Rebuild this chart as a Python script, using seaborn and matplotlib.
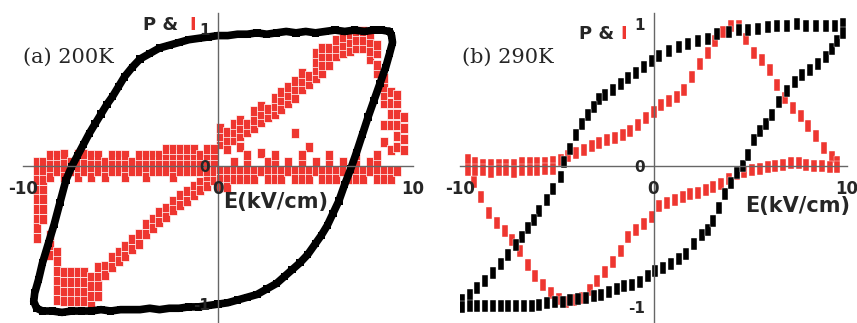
import matplotlib
matplotlib.use("Agg")
import matplotlib.pyplot as plt
from matplotlib.path import Path
from matplotlib.markers import MarkerStyle
import pandas as pd
import seaborn as sns

sns.set_style("white")
plt.rcParams['font.family'] = ['DejaVu Sans']

RED = '#ee3630'

# ---------------- (a) 200K ----------------
# polarisation loop, traced upper branch (right->left) then lower branch (left->right)
pa_e = [8.8, 8.4, 8.0, 7.5, 7.0, 6.5, 6.0, 5.5, 5.0, 4.5, 4.0, 3.5, 3.0, 2.5, 2.0, 1.5, 1.0, 0.5, 0.0,
        -0.5, -1.0, -1.5, -2.0, -2.5, -3.0, -3.5, -4.0, -4.4, -4.8, -5.1, -5.4, -5.7, -6.0, -6.3, -6.6,
        -6.9, -7.2, -7.5, -7.8, -8.1, -8.4, -8.7, -9.0, -9.2, -9.4, -9.45, -9.3,
        -9.0, -8.5, -8.0, -7.5, -7.0, -6.5, -6.0, -5.5, -5.0, -4.5, -4.0, -3.5, -3.0, -2.5, -2.0, -1.5,
        -1.0, -0.5, 0.0, 0.5, 1.0, 1.5, 2.0, 2.5, 3.0, 3.4, 3.8, 4.2, 4.6, 5.0, 5.3, 5.6, 5.9, 6.2,
        6.5, 6.8, 7.1, 7.4, 7.7, 8.0, 8.3, 8.6, 8.8, 8.95, 8.9, 8.8]
pa_p = [0.98, 0.99, 0.99, 0.98, 0.99, 0.98, 0.99, 0.98, 0.97, 0.98, 0.97, 0.98, 0.97, 0.96, 0.97, 0.96,
        0.96, 0.95, 0.95, 0.94, 0.93, 0.92, 0.90, 0.88, 0.86, 0.82, 0.78, 0.72, 0.65, 0.58, 0.51, 0.45,
        0.38, 0.31, 0.24, 0.16, 0.08, 0.00, -0.10, -0.26, -0.42, -0.56, -0.70, -0.82, -0.92, -0.98, -1.03,
        -1.05, -1.05, -1.06, -1.05, -1.05, -1.05, -1.04, -1.05, -1.04, -1.04, -1.04, -1.03, -1.04, -1.03,
        -1.03, -1.02, -1.02, -1.01, -1.00, -0.99, -0.97, -0.95, -0.93, -0.89, -0.85, -0.80, -0.75, -0.70,
        -0.64, -0.56, -0.50, -0.43, -0.34, -0.25, -0.13, -0.02, 0.10, 0.23, 0.36, 0.48, 0.60, 0.72, 0.82,
        0.90, 0.95, 0.98]

# current I, as columns (E, [I values])
ia_spike = [(-9.3, [0.03, -0.03, -0.10, -0.17, -0.24, -0.31, -0.38, -0.45, -0.52]),
            (-8.95, [0.03, -0.03, -0.10, -0.17, -0.24, -0.31, -0.38])]
ia_trough = [(-8.6, [-0.50, -0.57, -0.64]),
             (-8.25, [-0.62, -0.69, -0.76, -0.83, -0.90, -0.97]),
             (-7.9, [-0.77, -0.84, -0.91, -0.98]),
             (-7.55, [-0.77, -0.84, -0.91, -0.98]),
             (-7.2, [-0.77, -0.84, -0.91, -0.98]),
             (-6.85, [-0.77, -0.84, -0.91, -0.98]),
             (-6.5, [-0.80, -0.87, -0.94, -1.01]),
             (-6.15, [-0.73, -0.80, -0.87, -0.94]),
             (-5.8, [-0.72, -0.79])]
ia_neg = [(-5.45, [-0.66, -0.73]), (-5.1, [-0.62, -0.69]), (-4.75, [-0.58, -0.65]),
          (-4.4, [-0.53, -0.60]), (-4.05, [-0.49, -0.56]), (-3.7, [-0.42, -0.49]),
          (-3.35, [-0.38, -0.45]), (-3.0, [-0.33, -0.40]), (-2.65, [-0.30, -0.37]),
          (-2.3, [-0.25, -0.32]), (-1.95, [-0.21, -0.28]), (-1.6, [-0.18, -0.25]),
          (-1.25, [-0.14, -0.21]), (-0.9, [-0.11, -0.17]), (-0.55, [-0.08, -0.14]), (-0.2, [-0.10])]
ia_pos = [(0.1, [0.16, 0.22, 0.28]), (0.45, [0.13, 0.19, 0.25]), (0.8, [0.19, 0.25, 0.31]),
          (1.15, [0.14, 0.22, 0.28, 0.34]), (1.5, [0.25, 0.31]), (1.85, [0.28, 0.34, 0.40]),
          (2.2, [0.10, 0.32, 0.38, 0.44]), (2.55, [0.36, 0.42]), (2.9, [0.38, 0.44, 0.50]),
          (3.25, [0.42, 0.48, 0.54]), (3.6, [0.46, 0.52, 0.58]), (3.95, [0.24, 0.50, 0.56, 0.62]),
          (4.3, [0.56, 0.62, 0.68]), (4.65, [0.14, 0.60, 0.66]), (5.0, [0.64, 0.70, 0.76, 0.82]),
          (5.35, [0.68, 0.74, 0.80, 0.86]), (5.7, [0.74, 0.80, 0.86]), (6.05, [0.80, 0.86, 0.92]),
          (6.4, [0.82, 0.88, 0.94]), (6.75, [0.84, 0.90, 0.96]), (7.1, [0.86, 0.92, 0.98]),
          (7.45, [0.86, 0.92, 0.98]), (7.8, [0.78, 0.84, 0.90, 0.96]), (8.15, [0.68, 0.74, 0.82, 0.88]),
          (8.5, [0.18, 0.30, 0.46, 0.52, 0.58, 0.64]), (8.85, [0.12, 0.30, 0.38, 0.46, 0.54]),
          (9.2, [0.14, 0.22, 0.30, 0.38, 0.46, 0.52]), (9.55, [0.12, 0.20, 0.28, 0.36])]
ia_band_up = [(-8.6, [0.03, 0.08]), (-8.25, [0.03, 0.08]), (-7.9, [0.03, 0.09]), (-7.55, [0.03]),
              (-7.2, [0.03, 0.09]), (-6.85, [0.03, 0.09]), (-6.5, [0.03, 0.08]), (-6.15, [0.03, 0.08]),
              (-5.8, [0.03]), (-5.45, [0.03, 0.08]), (-5.1, [0.03, 0.08]), (-4.75, [0.03, 0.08]),
              (-4.4, [0.03]), (-4.05, [0.03, 0.08]), (-3.7, [0.03, 0.08]), (-3.35, [0.03, 0.08]),
              (-3.0, [0.03, 0.08]), (-2.65, [0.03, 0.08, 0.13]), (-2.3, [0.03, 0.08, 0.13]),
              (-1.95, [0.03, 0.08, 0.13]), (-1.6, [0.03, 0.08, 0.13]), (-1.25, [0.03, 0.08, 0.13]),
              (-0.9, [0.03, 0.08]), (-0.55, [0.03, 0.08, 0.13]), (-0.2, [0.03, 0.08, 0.13]),
              (0.8, [0.03]), (1.5, [0.03, 0.08]), (2.55, [0.03]), (2.9, [0.03, 0.08]), (3.6, [0.03]),
              (4.3, [0.03, 0.08]), (5.0, [0.03]), (5.7, [0.03, 0.08]), (6.4, [0.03]), (7.1, [0.03, 0.08]),
              (7.8, [0.03]), (8.15, [0.03, 0.08])]
ia_band_dn = [(-8.6, [-0.03, -0.08]), (-8.25, [-0.03]), (-7.9, [-0.03, -0.08]), (-7.55, [-0.03]),
              (-7.2, [-0.03, -0.08]), (-6.85, [-0.03]), (-6.5, [-0.03, -0.08]), (-6.15, [-0.03]),
              (-5.8, [-0.03, -0.08]), (-5.45, [-0.03]), (-5.1, [-0.03]), (-4.75, [-0.03, -0.08]),
              (-4.4, [-0.03]), (-4.05, [-0.03]), (-3.7, [-0.03, -0.08]), (-3.35, [-0.03]),
              (-3.0, [-0.03]), (-2.65, [-0.03]), (-2.3, [-0.03, -0.08]), (-1.95, [-0.03]),
              (-1.6, [-0.03]), (-1.25, [-0.03]), (-0.9, [-0.03]), (-0.55, [-0.03]), (-0.2, [-0.03]),
              (0.1, [-0.03, -0.09, -0.15]), (0.45, [-0.03, -0.09, -0.15]), (0.8, [-0.03, -0.09]),
              (1.15, [-0.03, -0.09]), (1.5, [-0.03, -0.09]), (1.85, [-0.03, -0.09]), (2.2, [-0.03]),
              (2.55, [-0.03, -0.09]), (2.9, [-0.03, -0.09]), (3.25, [-0.03, -0.09]), (3.6, [-0.03]),
              (3.95, [-0.03, -0.09]), (4.3, [-0.03, -0.09]), (4.65, [-0.03, -0.09]), (5.0, [-0.03]),
              (5.35, [-0.03, -0.09]), (5.7, [-0.03, -0.09]), (6.05, [-0.03, -0.09]), (6.4, [-0.03]),
              (6.75, [-0.03, -0.09]), (7.1, [-0.03, -0.09]), (7.45, [-0.03, -0.09]), (7.8, [-0.03]),
              (8.15, [-0.03, -0.09]), (8.5, [-0.03, -0.09]), (8.85, [-0.03, -0.09]), (9.2, [-0.03])]

# ---------------- (b) 290K ----------------
pb_up_e = [9.8, 9.4, 8.9, 8.4, 7.9, 7.4, 6.9, 6.4, 5.9, 5.4, 4.9, 4.4, 3.9, 3.3, 2.8, 2.3, 1.8, 1.3,
           0.8, 0.3, -0.1, -0.5, -0.9, -1.3, -1.7, -2.1, -2.5, -2.8, -3.1, -3.4, -3.7, -4.0, -4.3,
           -4.6, -4.8, -5.2, -5.5, -5.9, -6.2, -6.5, -6.8, -7.1, -7.5, -7.9, -8.3, -8.7, -9.1, -9.5,
           -9.9, -9.9]
pb_up_p = [1.0, 0.99, 0.99, 0.99, 0.99, 1.0, 0.99, 0.99, 0.98, 0.97, 0.96, 0.96, 0.95, 0.93, 0.90,
           0.88, 0.86, 0.84, 0.81, 0.78, 0.74, 0.70, 0.66, 0.62, 0.58, 0.54, 0.50, 0.47, 0.42, 0.36,
           0.30, 0.22, 0.12, 0.03, -0.08, -0.16, -0.24, -0.32, -0.38, -0.44, -0.50, -0.56, -0.63,
           -0.69, -0.76, -0.81, -0.86, -0.91, -0.95, -1.0]
pb_lo_e = [-9.5, -9.1, -8.7, -8.3, -7.9, -7.5, -7.1, -6.7, -6.3, -5.9, -5.5, -5.1, -4.7, -4.3, -3.9,
           -3.5, -3.1, -2.7, -2.3, -1.9, -1.5, -1.1, -0.7, -0.3, 0.1, 0.5, 0.9, 1.3, 1.7, 2.1, 2.5,
           2.8, 3.1, 3.4, 3.7, 4.0, 4.3, 4.6, 4.9, 5.2, 5.5, 5.8, 6.1, 6.5, 6.9, 7.3, 7.7, 8.1, 8.5,
           8.9, 9.2, 9.5, 9.8]
pb_lo_p = [-0.99, -0.99, -0.99, -0.99, -0.99, -0.99, -0.99, -0.99, -0.99, -0.98, -0.97, -0.96,
           -0.96, -0.95, -0.94, -0.93, -0.92, -0.91, -0.89, -0.87, -0.85, -0.84, -0.82, -0.78,
           -0.74, -0.72, -0.69, -0.66, -0.62, -0.55, -0.49, -0.45, -0.39, -0.30, -0.20, -0.12,
           -0.05, 0.00, 0.08, 0.18, 0.25, 0.30, 0.36, 0.45, 0.53, 0.59, 0.64, 0.68, 0.72, 0.77,
           0.83, 0.88, 0.94]

ib_rise_e = [-9.6, -9.2, -8.8, -8.4, -8.0, -7.6, -7.2, -6.8, -6.4, -6.0, -5.6, -5.2, -4.8, -4.4,
             -4.0, -3.6, -3.2, -2.8, -2.4, -2.0, -1.6, -1.2, -0.8, -0.4, 0.0, 0.4, 0.8, 1.2, 1.6,
             2.0, 2.4, 2.8, 3.2, 3.6, 4.0, 4.4, 4.8, 5.2, 5.6, 6.0, 6.4, 6.8, 7.2, 7.6, 8.0, 8.4,
             8.8, 9.2, 9.5]
ib_rise_i = [0.04, 0.02, 0.01, 0.01, 0.01, 0.01, 0.01, 0.02, 0.02, 0.02, 0.02, 0.03, 0.04, 0.07,
             0.09, 0.11, 0.14, 0.16, 0.18, 0.20, 0.22, 0.25, 0.29, 0.34, 0.38, 0.43, 0.46, 0.49,
             0.54, 0.63, 0.72, 0.80, 0.88, 0.95, 0.99, 0.99, 0.90, 0.80, 0.75, 0.68, 0.57, 0.48,
             0.41, 0.35, 0.28, 0.21, 0.13, 0.06, 0.03]
ib_fall_e = [9.5, 9.1, 8.7, 8.3, 7.9, 7.5, 7.1, 6.7, 6.3, 5.9, 5.5, 5.1, 4.7, 4.3, 3.9, 3.5, 3.1,
             2.7, 2.3, 1.9, 1.5, 1.1, 0.7, 0.3, -0.1, -0.5, -0.9, -1.3, -1.7, -2.1, -2.5, -2.9,
             -3.3, -3.7, -4.1, -4.5, -4.9, -5.3, -5.7, -6.1, -6.5, -6.9, -7.3, -7.7, -8.1, -8.5,
             -8.9, -9.3, -9.6]
ib_fall_i = [-0.01, -0.01, 0.00, 0.00, 0.01, 0.02, 0.02, 0.01, 0.00, -0.01, -0.02, -0.03, -0.04,
             -0.06, -0.09, -0.13, -0.15, -0.17, -0.19, -0.20, -0.22, -0.24, -0.26, -0.28, -0.36,
             -0.41, -0.45, -0.50, -0.60, -0.68, -0.75, -0.81, -0.88, -0.93, -0.95, -0.96, -0.94,
             -0.90, -0.84, -0.78, -0.70, -0.60, -0.52, -0.46, -0.40, -0.33, -0.22, -0.11, -0.03]
ib_flat_e = [-9.2, -8.8, -8.4, -8.0, -7.6, -7.2, -6.8, -6.4, -6.0, -5.6, -5.2]
ib_flat_i = [-0.03, -0.03, -0.04, -0.03, -0.03, -0.04, -0.03, -0.03, -0.03, -0.02, -0.02]


def columns_to_frame(*groups):
    rows = [(e, i) for cols in groups for e, vals in cols for i in vals]
    return pd.DataFrame(rows, columns=['E', 'I'])


def rect_marker(w):
    return MarkerStyle(Path([(-w / 2, -0.5), (w / 2, -0.5), (w / 2, 0.5), (-w / 2, 0.5), (-w / 2, -0.5)],
                            closed=True))


def style_axes(ax, ylim, ytick_size=11):
    ax.set_xlim(-10, 10)
    ax.set_ylim(*ylim)
    ax.set_facecolor('none')
    ax.set_axisbelow(False)  # tick labels sit on top of the markers
    ax.spines['left'].set_position(('data', 0))
    ax.spines['bottom'].set_position(('data', 0))
    for s in ('top', 'right'):
        ax.spines[s].set_visible(False)
    for s in ('left', 'bottom'):
        ax.spines[s].set_color('#666666')
        ax.spines[s].set_linewidth(1.0)
    ax.set_xticks([-10, 0, 10])
    ax.set_xticklabels(['-10', '0', '10'])
    ax.set_yticks([-1, 0, 1])
    ax.set_yticklabels(['-1', '0', '1'])
    ax.set_yticks([-0.5, 0.5], minor=True)
    ax.tick_params(axis='x', direction='out', length=4, color='#666666', labelsize=12, pad=6)
    ax.tick_params(axis='y', which='both', direction='out', length=4, color='#666666',
                   labelsize=ytick_size, pad=2)
    plt.setp(ax.get_xticklabels() + ax.get_yticklabels(), fontweight='bold')
    ax.set_xlabel('')
    ax.set_ylabel('')


fig = plt.figure(figsize=(8.57, 3.23), dpi=100)
ax_a = fig.add_axes([23 / 857, 0, 390 / 857, 310 / 323])
ax_b = fig.add_axes([460 / 857, 0, 387 / 857, 310 / 323])

# panel (a)
red_a = columns_to_frame(ia_spike, ia_trough, ia_neg, ia_pos, ia_band_up, ia_band_dn)
sns.scatterplot(data=red_a, x='E', y='I', ax=ax_a, marker=rect_marker(0.8), s=42, color=RED,
                edgecolor='white', linewidth=0.5, legend=False, zorder=1)
loop_a = pd.DataFrame({'E': pa_e, 'P': pa_p})
sns.lineplot(data=loop_a, x='E', y='P', ax=ax_a, sort=False, estimator=None, color='black',
             linewidth=5.5, solid_joinstyle='round', zorder=2)
sns.scatterplot(data=loop_a, x='E', y='P', ax=ax_a, marker='s', s=28, color='black',
                edgecolor='none', legend=False, zorder=2)
style_axes(ax_a, (-1.137, 1.114), ytick_size=11)

# panel (b)
red_b = pd.DataFrame({'E': ib_rise_e + ib_fall_e + ib_flat_e,
                      'I': ib_rise_i + ib_fall_i + ib_flat_i})
sns.scatterplot(data=red_b, x='E', y='I', ax=ax_b, marker=rect_marker(0.5), s=85, color=RED,
                edgecolor='white', linewidth=0.3, legend=False, zorder=1)
loop_b = pd.DataFrame({'E': pb_up_e + pb_lo_e, 'P': pb_up_p + pb_lo_p})
sns.scatterplot(data=loop_b, x='E', y='P', ax=ax_b, marker=rect_marker(0.5), s=85, color='black',
                edgecolor='white', linewidth=0.3, legend=False, zorder=2)
style_axes(ax_b, (-1.11, 1.081), ytick_size=11)

# labels
for ax, lab, (lx, ly), (px, ix, py), (ex, ey) in [
        (ax_a, '(a) 200K', (-10.0, 0.75), (-3.85, -1.49, 0.993), (0.27, -0.30)),
        (ax_b, '(b) 290K', (-9.9, 0.726), (-3.87, -1.70, 0.90), (4.74, -0.323))]:
    ax.text(lx, ly, lab, family='DejaVu Serif', fontsize=15, va='baseline', ha='left')
    ax.text(px, py, 'P &', fontsize=13, fontweight='bold', va='baseline', ha='left')
    ax.text(ix, py, 'I', fontsize=13, fontweight='bold', color=RED, va='baseline', ha='left')
    ax.text(ex, ey, 'E(kV/cm)', fontsize=15, fontweight='bold', va='baseline', ha='left')

fig.savefig('out.png', dpi=100)
